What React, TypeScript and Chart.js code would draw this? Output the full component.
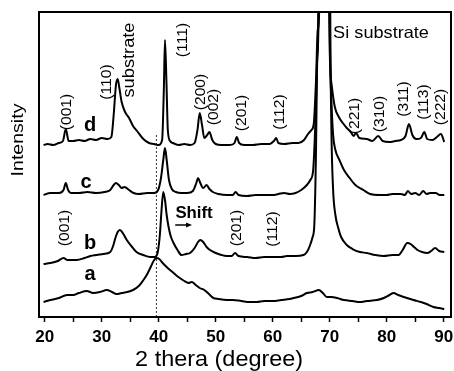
import React, { useEffect, useRef } from 'react';
import { Chart, registerables } from 'chart.js';

Chart.register(...registerables);

// ---- data (2θ in degrees, intensity in arbitrary units, curves already stacked) ----
const thetaA = [19.8,21,22.5,23.9,25,26,27.4,28.5,29.7,30.9,31.8,32.6,33.5,34.5,35.5,36.5,37.2,37.9,38.6,39.2,39.6,40.1,40.7,41.4,42.2,43,43.7,44.5,45.2,45.8,46.5,47.2,48,48.8,49.6,50.5,51.9,53,54.5,56,57.2,58.5,60,61.5,63,63.7,65,66,67,68.1,68.8,69.5,70.3,71.3,72.5,74,75.3,76.5,78.3,79.5,80.5,81.2,82,83,84.7,86,87,88.2,89.2,90.1];
const intensityA = [15,17,19,22,22,24,26,24,25,27,25,23,24,25,27,31,36,42,50,57,59,58,54,50,46,42,39,36,34,35,32,29,27,23,19,18,17,17,16,15,15,16,16,17,18,19,21,24,25,27,24,20,20,19,17,16,15,16,17,19,22,24,22,20,17,15,13,10,9,8];

const thetaB = [19.8,21,22.3,23.3,24,25.6,27,28,29.1,30.3,31.5,32,32.4,32.8,33.2,33.7,34.4,35.2,36.1,37.3,38.5,39.3,39.8,40.2,40.5,40.8,41.1,41.4,41.7,42.1,42.6,43.3,44,44.8,45.5,46.3,46.9,47.3,47.8,48.4,49,50,51,51.9,52.8,53.4,54,55.5,57,58.5,60,61.5,62.5,64,65.4,66,66.5,67,67.3,67.6,67.8,68.0,68.5,69.1,69.6,70.1,70.3,70.6,71,71.5,72,73,74,75.3,76.5,78,79.5,81,82.1,82.8,83.6,84.2,84.8,85.4,86.2,87.1,87.8,88.5,89.2,90.1];
const intensityB = [53,54,56,59,57,57,59,61,62,63,65,71,79,85,87,84,77,71,65,62,60,60,64,82,107,125,117,102,91,81,74,67,62,63,64,69,75,77,75,70,67,64,62,61,61,64,61,60,59,60,60,60,61,61,62,65,71,80,92,167,257,305,1200,1600,1200,305,187,127,102,89,80,72,68,65,64,62,61,62,62,67,74,73,70,67,65,64,66,69,66,65];

const thetaC = [19.8,21,22.5,23.3,23.7,24.1,24.6,26,27.5,29,30.5,31.5,32.1,32.5,33,33.5,34,34.8,35.6,36.5,38,39.2,39.9,40.4,40.8,41.1,41.4,41.8,42.3,43,44,45,46,46.6,46.9,47.3,47.8,48.4,48.9,49.5,50.5,52,53,53.5,54,55.5,57,58.5,60,61,62,63,64,65,66,66.6,67.1,67.5,67.8,68.05,68.6,69.1,69.5,70.0,70.3,70.6,71,71.7,72.5,73.5,74.5,75.9,77.1,78.8,80,81,82.5,83.2,83.7,84.3,85,85.7,86.4,87,87.6,88.6,89.3,90.1];
const intensityC = [122,124,124,127,134,127,124,124,125,124,125,127,132,134,132,129,130,127,124,123,124,124,127,139,157,169,157,137,128,125,124,124,126,134,139,134,129,132,128,125,123,122,122,125,122,121,122,122,122,123,124,123,124,127,132,137,147,197,257,305,1200,1600,1200,305,217,182,167,157,147,139,132,127,123,122,122,123,123,122,126,123,124,122,126,123,124,124,122,122];

const thetaD = [19.8,20.5,21.5,22.5,23.2,23.7,24.2,25,26,27,28,29,30,31,31.7,32.1,32.5,32.8,33.1,33.5,34.1,34.8,35.5,36.2,37.3,38.3,39.2,40,40.6,40.9,41.1,41.35,41.6,42,42.5,43.5,44.5,45.5,46.3,46.8,47.2,47.6,48,48.5,48.9,49.4,50,51,52.5,53.3,53.7,54.1,55,56.5,58,59.5,60.2,60.6,61,62,63.5,64.5,65.5,66.2,66.8,67.2,67.6,67.9,68.15,68.7,69.1,69.5,69.9,70.3,70.9,71.6,72.3,73,73.7,74.2,74.6,75.2,76.5,77.5,78.5,79.3,80.5,81.5,82.5,83.3,83.9,84.5,85.2,86,86.6,87.1,88,88.8,89.5,90.1];
const intensityD = [172,173,172,174,176,188,176,176,177,176,178,177,179,178,180,202,232,238,229,215,205,199,191,186,178,174,173,172,177,227,277,237,187,176,174,172,173,172,174,187,204,192,179,182,185,177,173,172,172,174,180,174,172,172,173,173,176,179,174,173,174,174,177,183,187,193,237,287,305,1200,1600,1200,305,234,210,200,194,189,185,181,184,179,178,176,181,176,175,176,177,181,193,182,178,179,185,178,177,180,183,175];

// reference line (dotted) at the 2θ of sample a's main peak
const refTheta = [39.6, 39.6];
const refIntensity = [0, 182];

const xTicks = [20, 25, 30, 35, 40, 45, 50, 55, 60, 65, 70, 75, 80, 85, 90];

const FONT = "'Liberation Sans', Arial, Helvetica, sans-serif";

// annotation labels (data coordinates)
const curveLetters = [
  { text: 'd', x: 27.95, y: 192 },
  { text: 'c', x: 27.25, y: 135 },
  { text: 'b', x: 27.95, y: 74 },
  { text: 'a', x: 27.95, y: 43 },
];
const peakLabels = [
  { text: '(001)', x: 23.9, y: 205 },
  { text: '(110)', x: 30.9, y: 235 },
  { text: '(111)', x: 44.26, y: 277 },
  { text: '(200)', x: 47.42, y: 225 },
  { text: '(002)', x: 49.7, y: 210 },
  { text: '(201)', x: 54.6, y: 204 },
  { text: '(112)', x: 61.25, y: 205 },
  { text: '(221)', x: 74.4, y: 201 },
  { text: '(310)', x: 78.8, y: 203 },
  { text: '(311)', x: 83.1, y: 218 },
  { text: '(113)', x: 86.6, y: 215 },
  { text: '(222)', x: 89.6, y: 210 },
  { text: '(001)', x: 23.56, y: 89 },
  { text: '(201)', x: 53.8, y: 89 },
  { text: '(112)', x: 60.1, y: 88 },
];

function drawText(ctx: CanvasRenderingContext2D, text: string, px: number, py: number, font: string, rot: number, k: number, align: CanvasTextAlign = 'center') {
  ctx.save();
  ctx.translate(px, py);
  if (rot) ctx.rotate(rot);
  ctx.scale(k, 1);
  ctx.font = font;
  ctx.textAlign = align;
  ctx.textBaseline = 'middle';
  ctx.fillStyle = '#000';
  ctx.fillText(text, 0, 0);
  ctx.restore();
}

const annotationPlugin = {
  id: 'xrdAnnotations',
  afterDatasetsDraw(chart: any) {
    const { ctx, chartArea: ca, scales } = chart;
    const xs = scales.x;
    const ys = scales.y;
    ctx.save();
    // frame
    ctx.strokeStyle = '#000';
    ctx.lineWidth = 2;
    ctx.strokeRect(ca.left, ca.top, ca.right - ca.left, ca.bottom - ca.top);

    // letters
    curveLetters.forEach((l) => {
      drawText(ctx, l.text, xs.getPixelForValue(l.x), ys.getPixelForValue(l.y), `bold 20px ${FONT}`, 0, 1);
    });
    // peak labels (rotated)
    peakLabels.forEach((l) => {
      drawText(ctx, l.text, xs.getPixelForValue(l.x), ys.getPixelForValue(l.y), `14px ${FONT}`, -Math.PI / 2, 1.12);
    });
    drawText(ctx, 'substrate', xs.getPixelForValue(34.96), ys.getPixelForValue(257), `16px ${FONT}`, -Math.PI / 2, 1.14);
    drawText(ctx, 'Si substrate', xs.getPixelForValue(70.6), ys.getPixelForValue(284), `16.5px ${FONT}`, 0, 1.1, 'left');

    // Shift label + arrow
    drawText(ctx, 'Shift', xs.getPixelForValue(46.2), ys.getPixelForValue(103), `bold 16px ${FONT}`, 0, 1.05);
    const ax0 = xs.getPixelForValue(42.9);
    const ax1 = xs.getPixelForValue(45.85);
    const ay = ys.getPixelForValue(92);
    ctx.strokeStyle = '#000';
    ctx.lineWidth = 1.5;
    ctx.beginPath();
    ctx.moveTo(ax0, ay);
    ctx.lineTo(ax1 - 3, ay);
    ctx.stroke();
    ctx.fillStyle = '#000';
    ctx.beginPath();
    ctx.moveTo(ax1, ay);
    ctx.lineTo(ax1 - 6, ay - 2.5);
    ctx.lineTo(ax1 - 6, ay + 2.5);
    ctx.closePath();
    ctx.fill();

    // axis titles
    drawText(ctx, '2 thera (degree)', xs.getPixelForValue(50.6), ca.bottom + 43, `21.5px ${FONT}`, 0, 1.09);
    drawText(ctx, 'Intensity', ca.left - 21, ys.getPixelForValue(177), `17px ${FONT}`, -Math.PI / 2, 1.15);
    ctx.restore();
  },
};

export default function App() {
  const canvasRef = useRef<HTMLCanvasElement | null>(null);

  useEffect(() => {
    if (!canvasRef.current) return;
    const series = [
      { theta: thetaA, intensity: intensityA },
      { theta: thetaB, intensity: intensityB },
      { theta: thetaC, intensity: intensityC },
      { theta: thetaD, intensity: intensityD },
    ];
    const datasets: any[] = series.map((s) => ({
      data: s.theta.map((t, i) => ({ x: t, y: s.intensity[i] })),
      borderColor: '#000',
      borderWidth: 2,
      pointRadius: 0,
      fill: false,
      cubicInterpolationMode: 'monotone',
    }));
    datasets.push({
      data: refTheta.map((t, i) => ({ x: t, y: refIntensity[i] })),
      borderColor: '#333',
      borderWidth: 1,
      borderDash: [2, 2],
      pointRadius: 0,
      fill: false,
    });

    const chart = new Chart(canvasRef.current, {
      type: 'line',
      data: { datasets },
      options: {
        animation: false,
        responsive: true,
        maintainAspectRatio: false,
        layout: { padding: { left: 39, top: 12, right: 3, bottom: 0 } },
        plugins: { legend: { display: false }, tooltip: { enabled: false }, title: { display: false } },
        scales: {
          x: {
            type: 'linear',
            min: 19,
            max: 91.28,
            afterBuildTicks: (sc: any) => {
              sc.ticks = xTicks.map((v) => ({ value: v }));
            },
            afterFit: (sc: any) => {
              sc.height = 54;
              sc.paddingLeft = 0;
              sc.paddingRight = 0;
            },
            ticks: {
              autoSkip: false,
              maxRotation: 0,
              color: '#000',
              padding: 5,
              font: { family: FONT, size: 17, weight: 'bold' },
              callback: (v: any) => (Number(v) % 10 === 0 ? String(v) : ''),
            },
            grid: { drawOnChartArea: false, drawTicks: true, tickLength: 5, tickColor: '#000', tickWidth: 1.5 },
            border: { display: false },
          },
          y: { type: 'linear', display: false, min: 0, max: 305 },
        },
      } as any,
      plugins: [annotationPlugin],
    });
    return () => chart.destroy();
  }, []);

  return (
    <div style={{ position: 'fixed', left: 0, top: 0, width: 454, height: 371, background: '#fff' }}>
      <canvas ref={canvasRef} />
    </div>
  );
}
